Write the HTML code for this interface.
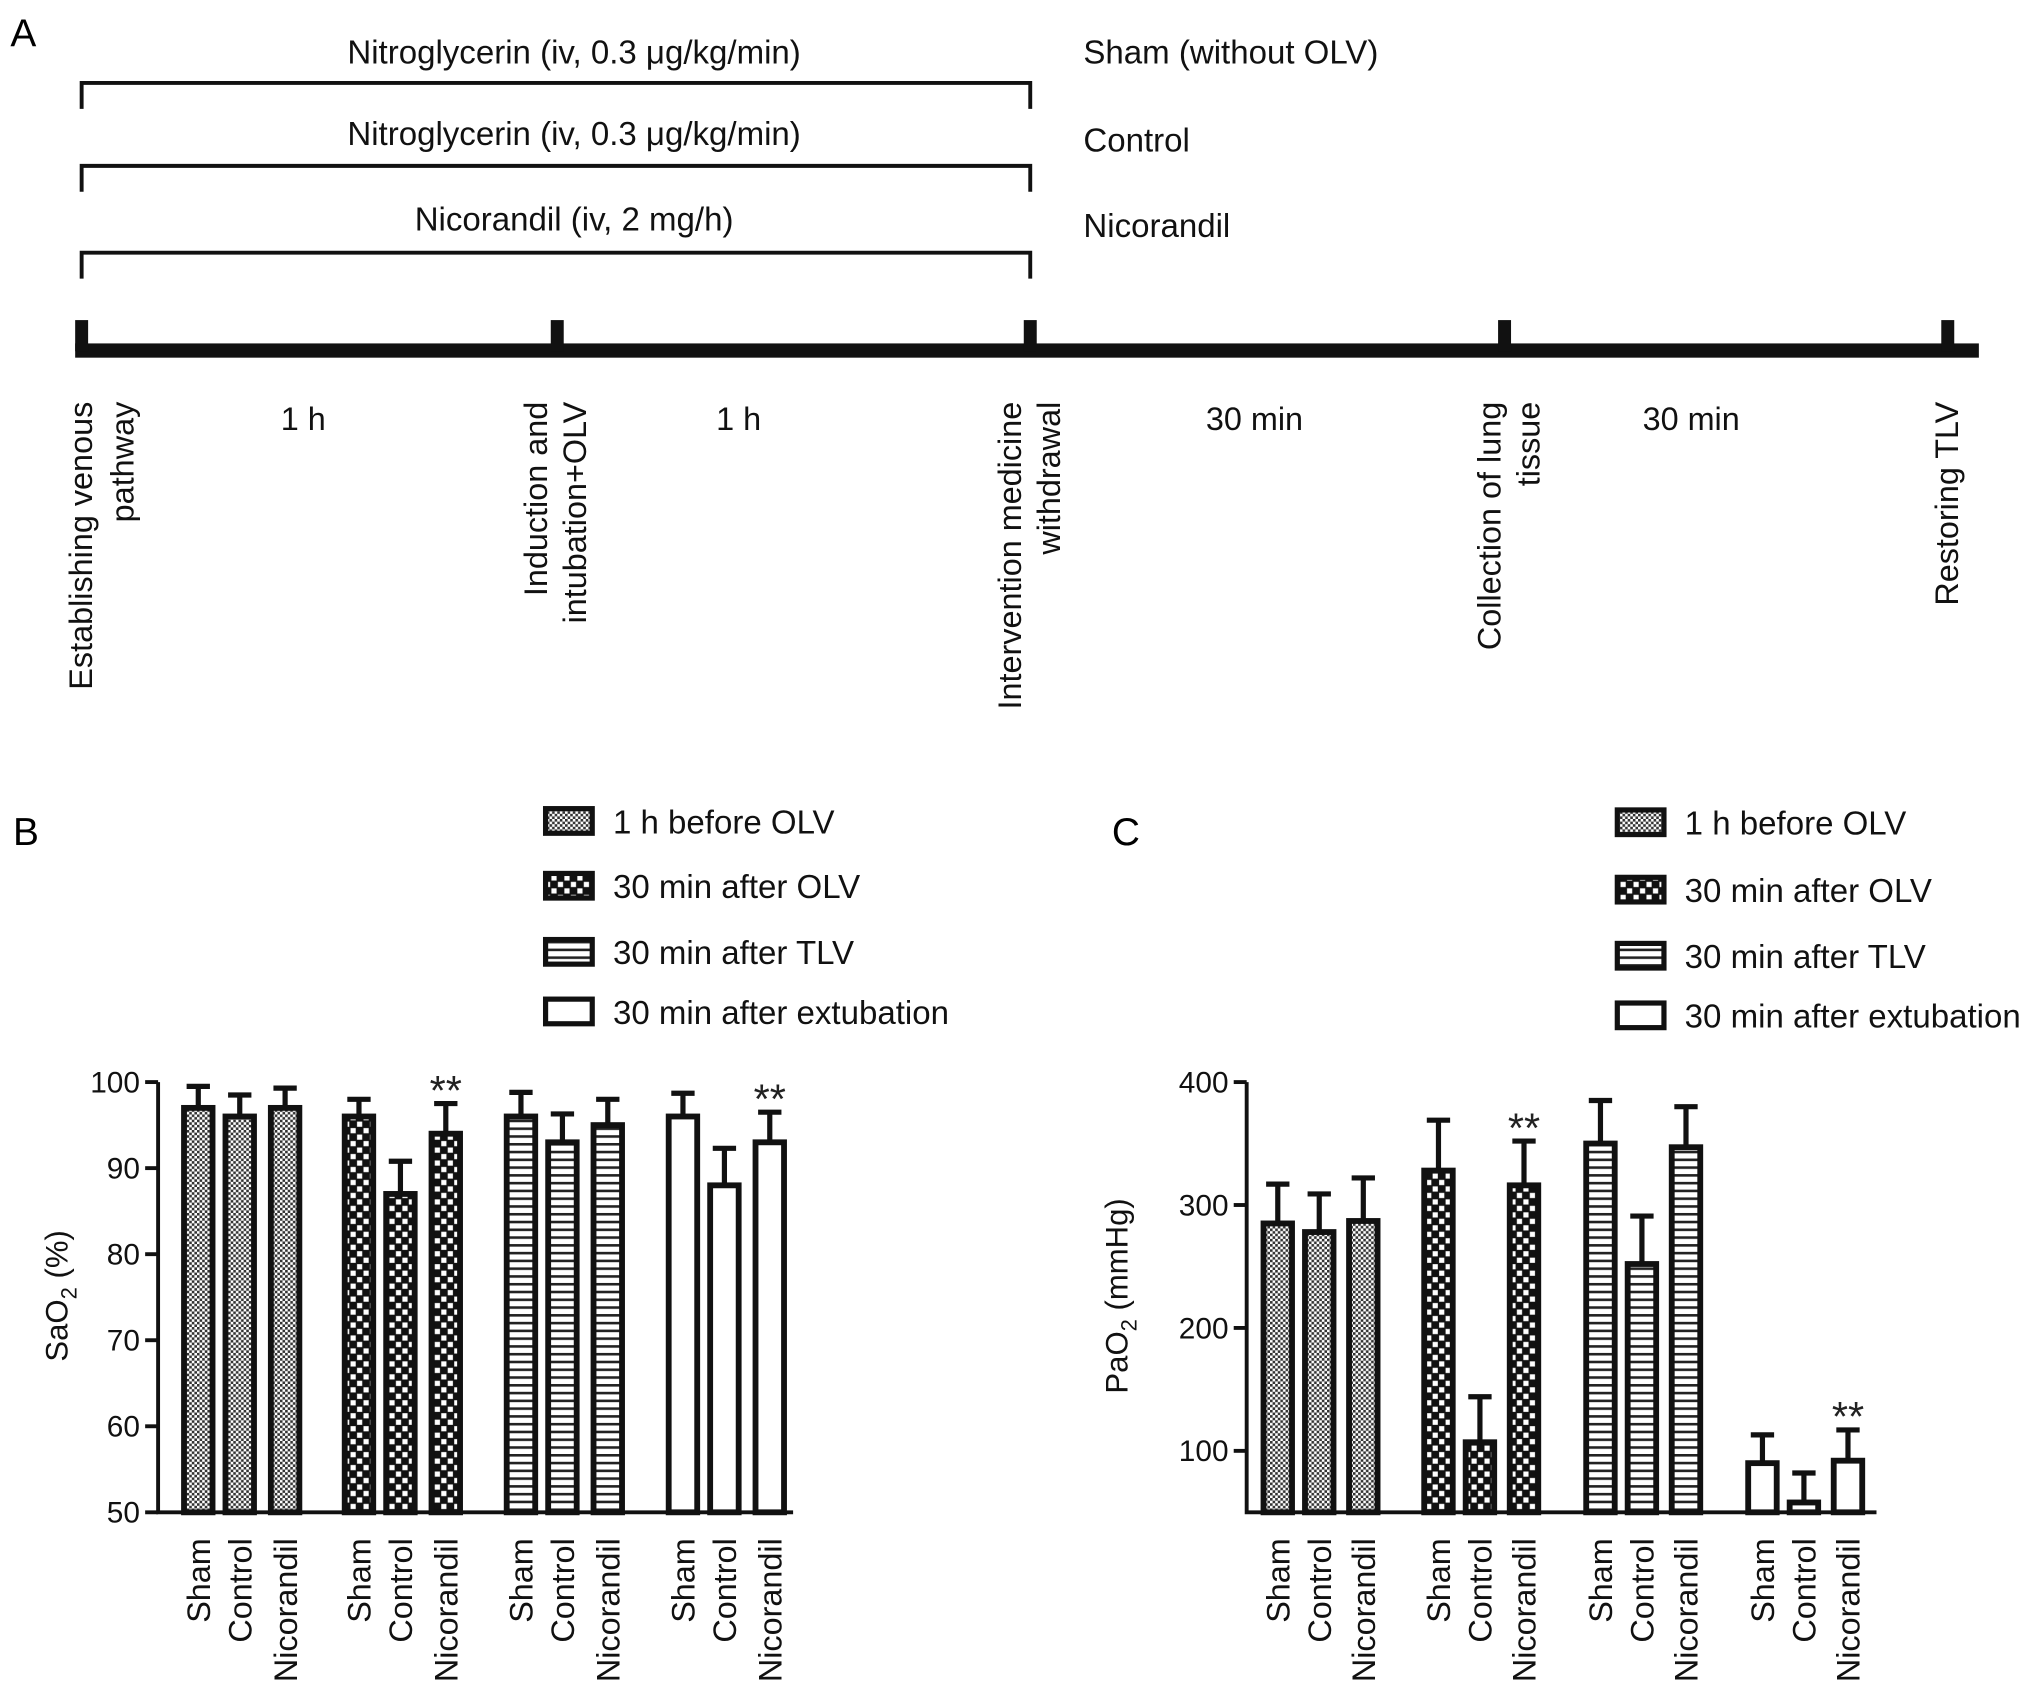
<!DOCTYPE html>
<html><head><meta charset="utf-8"><style>
html,body{margin:0;padding:0;background:#fff}
svg{display:block;font-family:"Liberation Sans",sans-serif}
</style></head><body>
<svg id="fig" width="2032" height="1701" viewBox="0 0 1568 1312.6" preserveAspectRatio="none" xmlns="http://www.w3.org/2000/svg">
<defs>
<pattern id="p0" width="4" height="4" patternUnits="userSpaceOnUse"><rect width="4" height="4" fill="#fff"/><rect width="2" height="2" fill="#333"/><rect x="2" y="2" width="2" height="2" fill="#333"/></pattern>
<pattern id="p1" width="10" height="10" patternUnits="userSpaceOnUse"><rect width="10" height="10" fill="#111"/><rect x="0.5" y="0.5" width="4" height="4" fill="#fff"/><rect x="5.5" y="5.5" width="4" height="4" fill="#fff"/></pattern>
<pattern id="p2" width="6" height="6" patternUnits="userSpaceOnUse"><rect width="6" height="6" fill="#fff"/><rect y="0" width="6" height="2" fill="#222"/></pattern>
<pattern id="p3" width="6" height="6" patternUnits="userSpaceOnUse"><rect width="6" height="6" fill="#fff"/></pattern>
</defs>
<g id="panelA">
<text x="8" y="36" font-size="30">A</text>
<g fill="none" stroke="#111" stroke-width="3">
<path d="M63 84 V64 H795 V84"/><path d="M63 148 V128 H795 V148"/><path d="M63 215 V195 H795 V215"/>
</g>
<g font-size="25.5" text-anchor="middle" fill="#111">
<text x="443" y="49">Nitroglycerin (iv, 0.3 μg/kg/min)</text>
<text x="443" y="112">Nitroglycerin (iv, 0.3 μg/kg/min)</text>
<text x="443" y="178">Nicorandil (iv, 2 mg/h)</text>
</g>
<g font-size="25.5" fill="#111">
<text x="836" y="49">Sham (without OLV)</text>
<text x="836" y="117">Control</text>
<text x="836" y="183">Nicorandil</text>
</g>
<rect x="58" y="265" width="1469" height="11" fill="#111"/>
<g fill="#111">
<rect x="58" y="247" width="10" height="24"/><rect x="425" y="247" width="10" height="24"/><rect x="790" y="247" width="10" height="24"/><rect x="1156" y="247" width="10" height="24"/><rect x="1498" y="247" width="10" height="24"/>
</g>
<g font-size="25" fill="#111" text-anchor="middle">
<text x="234" y="332">1 h</text>
<text x="570" y="332">1 h</text>
<text x="968" y="332">30 min</text>
<text x="1305" y="332">30 min</text>
</g>
<g font-size="25" fill="#111" text-anchor="end">
<text transform="translate(71,310) rotate(-90)">Establishing venous</text>
<text transform="translate(103,310) rotate(-90)">pathway</text>
<text transform="translate(422,310) rotate(-90)">Induction and</text>
<text transform="translate(452,310) rotate(-90)">intubation+OLV</text>
<text transform="translate(788,310) rotate(-90)">Intervention medicine</text>
<text transform="translate(818,310) rotate(-90)">withdrawal</text>
<text transform="translate(1158,310) rotate(-90)">Collection of lung</text>
<text transform="translate(1188,310) rotate(-90)">tissue</text>
<text transform="translate(1511,310) rotate(-90)">Restoring TLV</text>
</g>
</g>
<g id="panelB"></g>
<g id="panelC"></g>
</svg>
<script>
var NS='http://www.w3.org/2000/svg';
var groupLabels=['Sham','Control','Nicorandil'];
var seriesNames=['1 h before OLV','30 min after OLV','30 min after TLV','30 min after extubation'];
var bVals=[[97,96,97],[96,87,94],[96,93,95],[96,88,93]];
var bErrTop=[[99.5,98.5,99.3],[98,90.8,97.5],[98.8,96.3,98],[98.7,92.3,96.5]];
var bTicks=[50,60,70,80,90,100];
var bStars=[[1,2],[3,2]];
var cVals=[[285,278,287],[328,107,316],[350,252,347],[90,58,92]];
var cErrTop=[[317,309,322],[369,144,352],[385,291,380],[113,82,117]];
var cTicks=[100,200,300,400];
var cStars=[[1,2],[3,2]];

function mk(parent,tag,attrs){
  var e=document.createElementNS(NS,tag);
  for(var k in attrs){e.setAttribute(k,String(attrs[k]));}
  parent.appendChild(e);
  return e;
}

function panel(g,cfg){
  function sy(v){return cfg.y0+(v-cfg.vmin)/(cfg.vmax-cfg.vmin)*(cfg.y1-cfg.y0);}
  var t=mk(g,'text',{x:cfg.letterX,y:652,'font-size':30});
  t.textContent=cfg.letter;
  
  
  for(var i=0;i<cfg.legY.length;i++){
    var ly=cfg.legY[i];
    var r=mk(g,'rect',{x:cfg.legX,y:ly-19,width:36,height:19,fill:'url(#p'+i+')',stroke:'#111','stroke-width':4});
    
    
    var lt=mk(g,'text',{x:cfg.legX+52,y:ly,'font-size':25.5,fill:'#111'});
    lt.textContent=seriesNames[i];
    
    
  }
  var ax=mk(g,'path',{d:'M'+cfg.ax+' '+sy(cfg.vmax)+' V'+cfg.y0+' H'+cfg.axEnd,fill:'none',stroke:'#111','stroke-width':3});
  
  
  for(var j=0;j<cfg.ticks.length;j++){
    var v=cfg.ticks[j];
    var tl=mk(g,'line',{x1:cfg.ax-10,x2:cfg.ax,y1:sy(v),y2:sy(v),stroke:'#111','stroke-width':3});
    
    
    var tt=mk(g,'text',{x:cfg.ax-14,y:sy(v)+8,'font-size':23,'text-anchor':'end',fill:'#111'});
    tt.textContent=String(v);
    
    
  }
  var yt=mk(g,'text',{transform:'translate('+cfg.titleX+',1000) rotate(-90)','font-size':24,'text-anchor':'middle',fill:'#111'});
  
  
  var s1=mk(yt,'tspan',{});s1.textContent=cfg.titleA;
  var s2=mk(yt,'tspan',{dy:7,'font-size':17});s2.textContent='2';
  var s3=mk(yt,'tspan',{dy:-7});s3.textContent=cfg.titleB;
  for(var gi=0;gi<cfg.vals.length;gi++){
    for(var bi=0;bi<3;bi++){
      var cx=cfg.gx[gi]+cfg.step[bi];
      var tp=sy(cfg.vals[gi][bi]);
      var et=sy(cfg.err[gi][bi]);
      var eb=mk(g,'path',{d:'M'+cx+' '+tp+' V'+et+' M'+(cx-9)+' '+et+' H'+(cx+9),stroke:'#111','stroke-width':4,fill:'none'});
      
      
      var b=mk(g,'rect',{x:cx-11,y:tp,width:22,height:cfg.y0-tp,fill:'url(#p'+gi+')',stroke:'#111','stroke-width':4.5});
      
      
      var lb=mk(g,'text',{transform:'translate('+(cx+9)+',1187) rotate(-90)','font-size':25,'text-anchor':'end',fill:'#111'});
      lb.textContent=groupLabels[bi];
      
      
    }
  }
  for(var k=0;k<cfg.stars.length;k++){
    var sg=cfg.stars[k][0], sb=cfg.stars[k][1];
    var sx=cfg.gx[sg]+cfg.step[sb];
    var st=mk(g,'text',{x:sx,y:sy(cfg.err[sg][sb])+1,'font-size':32,'text-anchor':'middle',fill:'#222'});
    st.textContent='**';
    
    
  }
}
try{
panel(document.getElementById('panelB'),{letter:'B',letterX:10,legX:421,legY:[643,693,744,790],vals:bVals,err:bErrTop,ticks:bTicks,stars:bStars,vmin:50,vmax:100,y0:1167,y1:835,ax:122,axEnd:612,gx:[153,277,402,527],step:[0,32,67],titleX:52,titleA:'SaO',titleB:' (%)'});
}catch(e){console.log(e);}
try{
panel(document.getElementById('panelC'),{letter:'C',letterX:858,legX:1248,legY:[644,696,747,793],vals:cVals,err:cErrTop,ticks:cTicks,stars:cStars,vmin:50,vmax:400,y0:1167,y1:835,ax:962,axEnd:1448,gx:[986,1110,1235,1360],step:[0,32,66],titleX:870,titleA:'PaO',titleB:' (mmHg)'});
}catch(e){console.log(e);}
</script>
</body></html>
